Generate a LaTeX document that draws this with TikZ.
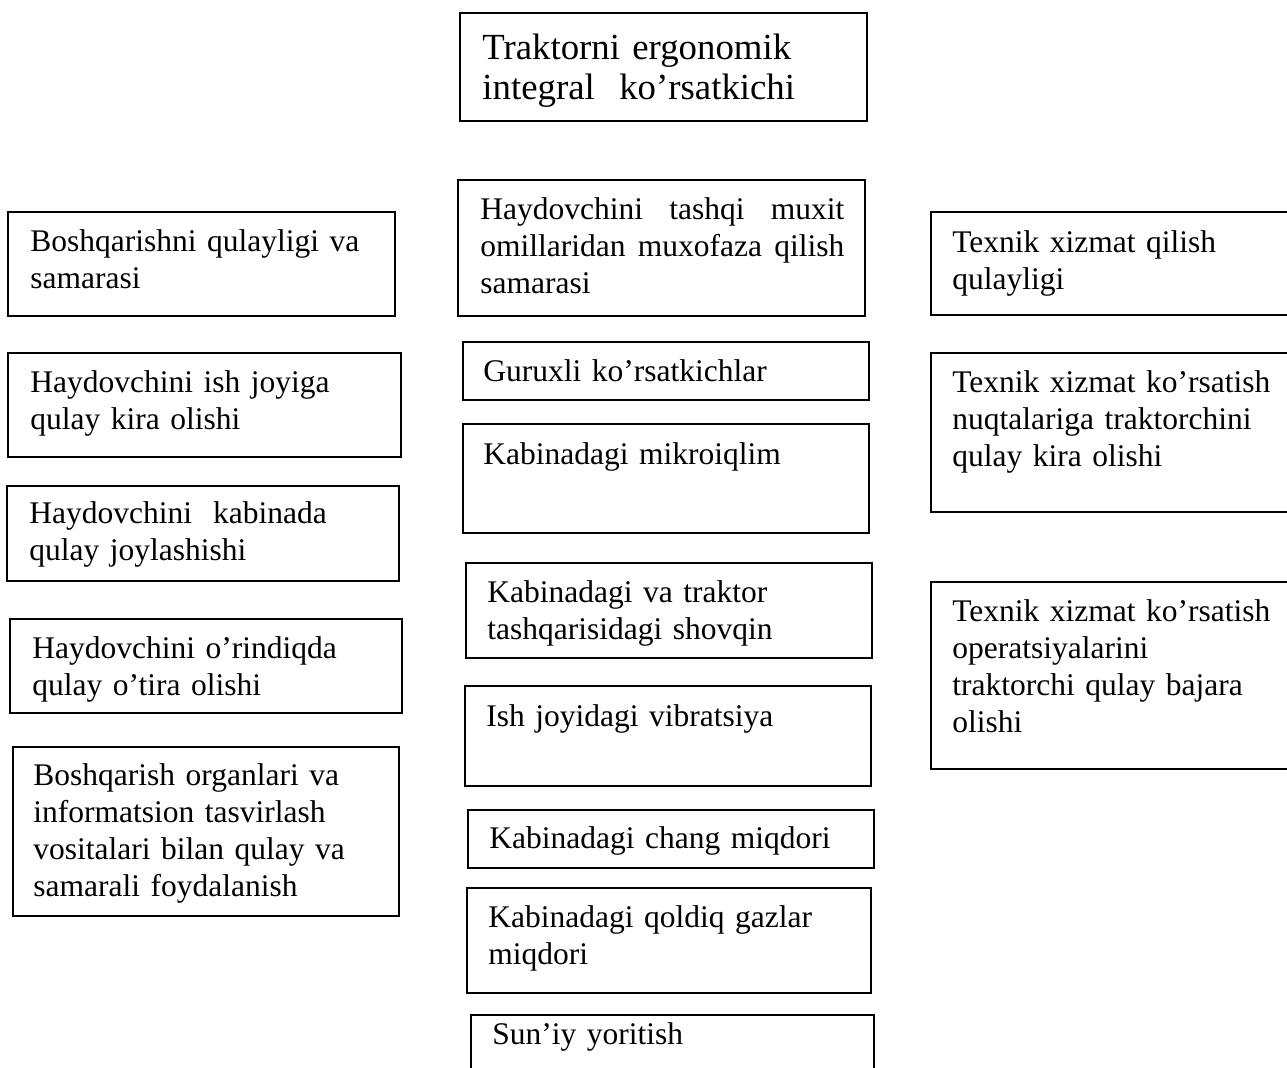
\documentclass[tikz,border=0pt]{standalone}
\usepackage{fontspec}
\setmainfont{Liberation Serif}
\usetikzlibrary{fit}

\tikzset{
  cell/.style={draw, rectangle, inner sep=0pt, line width=0.9pt},
  txt/.style={anchor=base west, inner sep=0pt, align=left, text width=190pt,
    font=\fontsize{15.75}{18.5}\selectfont},
  head/.style={txt, font=\fontsize{18.4}{20}\selectfont},
}

\begin{document}
\begin{tikzpicture}[x=0.5pt, y=-0.5pt]
    \useasboundingbox[fill=white] (0,0) rectangle (1287,1068);

    % --- integral index (top) ---
    \node (top) [cell, fit={(460,13) (867,121)}] {};
    \node (topt) [head] at (482,60) {Traktorni ergonomik\\integral\ \ ko’rsatkichi};

    % --- control and workplace (left) ---
    \node (l1) [cell, fit={(8,212) (395,316)}] {};
    \node (l1t) [txt] at (30,252) {Boshqarishni qulayligi va\\samarasi};
    \node (l2) [cell, fit={(8,353) (401,457)}] {};
    \node (l2t) [txt] at (30,393) {Haydovchini ish joyiga\\qulay kira olishi};
    \node (l3) [cell, fit={(7,486) (399,581)}] {};
    \node (l3t) [txt] at (29,524) {Haydovchini\ \ kabinada\\qulay joylashishi};
    \node (l4) [cell, fit={(10,619) (402,713)}] {};
    \node (l4t) [txt] at (32,659) {Haydovchini o’rindiqda\\qulay o’tira olishi};
    \node (l5) [cell, fit={(13,747) (399,916)}] {};
    \node (l5t) [txt] at (33,786) {Boshqarish organlari va\\informatsion tasvirlash\\vositalari bilan qulay va\\samarali foydalanish};

    % --- protection from outside factors (middle) ---
    \node (m1) [cell, fit={(458,180) (865,316)}] {};
    \node (m1t) [txt] at (480,220) {\makebox[182pt][l]{Haydovchini\hfill tashqi\hfill muxit}\\\makebox[182pt][l]{omillaridan\hfill muxofaza\hfill qilish}\\samarasi};
    \node (m2) [cell, fit={(463,342) (869,400)}] {};
    \node (m2t) [txt] at (483,382) {Guruxli ko’rsatkichlar};
    \node (m3) [cell, fit={(463,424) (869,533)}] {};
    \node (m3t) [txt] at (483,465) {Kabinadagi mikroiqlim};
    \node (m4) [cell, fit={(466,563) (872,658)}] {};
    \node (m4t) [txt] at (487,603) {Kabinadagi va traktor\\tashqarisidagi shovqin};
    \node (m5) [cell, fit={(465,686) (871,786)}] {};
    \node (m5t) [txt] at (486,727) {Ish joyidagi vibratsiya};
    \node (m6) [cell, fit={(468,810) (874,868)}] {};
    \node (m6t) [txt] at (489,849) {Kabinadagi chang miqdori};
    \node (m7) [cell, fit={(467,888) (871,993)}] {};
    \node (m7t) [txt] at (488,928) {Kabinadagi qoldiq gazlar\\miqdori};
    \node (m8) [cell, fit={(471,1015) (874,1090)}] {};
    \node (m8t) [txt] at (492,1045) {Sun’iy yoritish};

    % --- maintenance (right) ---
    \node (r1) [cell, fit={(931,212) (1297,315)}] {};
    \node (r1t) [txt] at (952,253) {Texnik xizmat qilish\\qulayligi};
    \node (r2) [cell, fit={(931,353) (1297,512)}] {};
    \node (r2t) [txt] at (952,393) {Texnik xizmat ko’rsatish\\nuqtalariga traktorchini\\qulay kira olishi};
    \node (r3) [cell, fit={(931,582) (1297,769)}] {};
    \node (r3t) [txt] at (952,622) {Texnik xizmat ko’rsatish\\operatsiyalarini\\traktorchi qulay bajara\\olishi};
\end{tikzpicture}
\end{document}
